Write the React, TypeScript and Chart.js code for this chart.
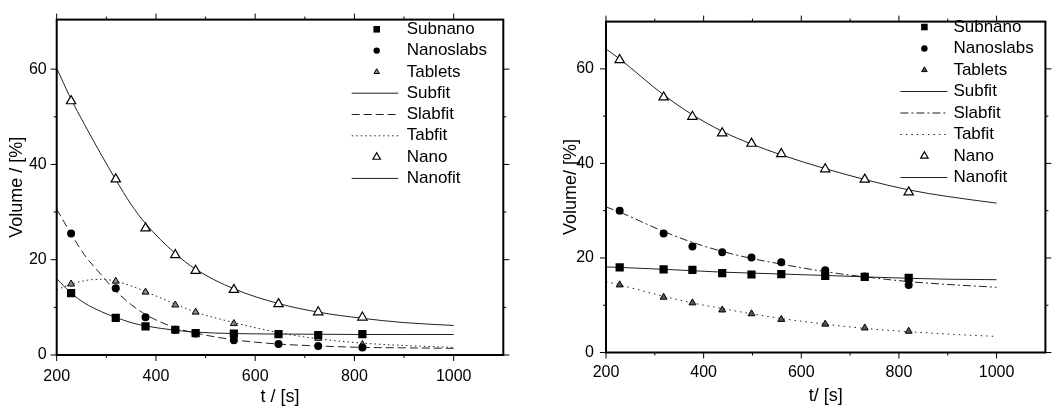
import React, { useEffect, useRef } from 'react';
import { Chart, registerables } from 'chart.js';

Chart.register(...registerables);

const FONT = "'Liberation Sans', Arial, Helvetica, sans-serif";

// ---- tick values ----
const xTickValues = [200, 400, 600, 800, 1000];
const xMinorTicks = [300, 500, 700, 900];
const yTickValues = [0, 20, 40, 60];
const yMinorTicks = [10, 30, 50];

// ---- left panel data ----
const timesL = [229, 319, 379, 439, 480, 557, 647, 727, 816];
const subnanoL = [13.0, 7.8, 6.0, 5.3, 4.6, 4.5, 4.4, 4.2, 4.4];
const nanoslabsL = [25.5, 14.0, 7.9, 5.3, 4.5, 3.1, 2.3, 1.9, 1.6];
const tabletsL = [14.9, 15.5, 13.2, 10.5, 9.0, 6.6, 4.4, 3.5, 2.2];
const nanoL = [53.3, 36.9, 26.6, 21.0, 17.7, 13.7, 10.7, 9.0, 7.9];

const fitTimesL = [200, 228, 256, 290, 319, 350, 379, 439, 480, 557, 647, 727, 816, 900, 1000];
const subfitL = [16.0, 13.1, 10.9, 9.1, 7.9, 6.8, 6.1, 5.2, 4.8, 4.5, 4.4, 4.35, 4.3, 4.3, 4.3];
const slabfitL = [30.6, 25.6, 21.0, 16.8, 13.4, 10.6, 8.5, 5.7, 4.6, 3.2, 2.3, 1.9, 1.6, 1.5, 1.4];
const tabfitL = [13.7, 14.8, 15.6, 15.9, 15.5, 14.5, 13.3, 10.7, 9.0, 6.8, 4.7, 3.4, 2.5, 2.0, 1.6];
const nanofitL = [60.2, 53.9, 48.4, 42.0, 36.8, 31.6, 27.6, 21.3, 18.0, 13.9, 10.8, 9.0, 7.7, 6.8, 6.2];

// ---- right panel data ----
const timesR = [228, 318, 377, 438, 498, 559, 649, 730, 820];
const subnanoR = [18.0, 17.6, 17.5, 16.8, 16.5, 16.6, 16.2, 16.0, 15.8];
const nanoslabsR = [30.0, 25.2, 22.4, 21.2, 20.1, 19.1, 17.4, 16.1, 14.3];
const tabletsR = [14.3, 11.7, 10.5, 9.0, 8.2, 7.0, 6.0, 5.2, 4.5];
const nanoR = [61.9, 54.0, 49.9, 46.4, 44.2, 42.0, 38.8, 36.6, 33.9];

const fitTimesR = [200, 228, 318, 377, 438, 498, 559, 649, 730, 820, 900, 1000];
const subfitR = [18.1, 18.0, 17.6, 17.3, 17.0, 16.8, 16.6, 16.3, 16.0, 15.7, 15.5, 15.4];
const slabfitR = [30.8, 29.7, 25.6, 23.3, 21.4, 19.9, 18.7, 17.1, 16.0, 15.0, 14.4, 13.8];
const tabfitR = [15.0, 14.3, 11.9, 10.5, 9.3, 8.2, 7.2, 6.0, 5.1, 4.4, 3.9, 3.4];
const nanofitR = [64.2, 62.1, 54.5, 50.3, 46.8, 44.1, 41.8, 38.9, 36.6, 34.4, 33.0, 31.6];

const pts = (xs: number[], ys: number[]) => xs.map((x, i) => ({ x, y: ys[i] }));

function markerSet(label: string, xs: number[], ys: number[], style: string, radius: number, fill: string, bw: number) {
  return {
    label,
    data: pts(xs, ys),
    showLine: false,
    pointStyle: style,
    pointRadius: radius,
    pointBackgroundColor: fill,
    pointBorderColor: '#000',
    pointBorderWidth: bw,
    borderColor: '#000',
    backgroundColor: fill,
  };
}

function fitSet(label: string, xs: number[], ys: number[], dash: number[]) {
  return {
    label,
    data: pts(xs, ys),
    showLine: true,
    pointRadius: 0,
    borderColor: '#222',
    borderWidth: 1,
    borderDash: dash,
    cubicInterpolationMode: 'monotone',
    fill: false,
  };
}

function drawMarker(ctx: CanvasRenderingContext2D, style: string, x: number, y: number, r: number, fill: string, bw: number) {
  ctx.beginPath();
  if (style === 'rect') {
    const s = r * Math.SQRT1_2;
    ctx.rect(x - s, y - s, 2 * s, 2 * s);
  } else if (style === 'circle') {
    ctx.arc(x, y, r, 0, Math.PI * 2);
  } else {
    let a = 0;
    ctx.moveTo(x + Math.sin(a) * r, y - Math.cos(a) * r);
    a += (2 * Math.PI) / 3;
    ctx.lineTo(x + Math.sin(a) * r, y - Math.cos(a) * r);
    a += (2 * Math.PI) / 3;
    ctx.lineTo(x + Math.sin(a) * r, y - Math.cos(a) * r);
    ctx.closePath();
  }
  ctx.fillStyle = fill;
  ctx.fill();
  if (bw > 0) {
    ctx.lineWidth = bw;
    ctx.strokeStyle = '#000';
    ctx.stroke();
  }
}

const frameTicks = {
  id: 'frameTicks',
  afterDraw(chart: any) {
    const { ctx, chartArea } = chart;
    const { left, right, top, bottom } = chartArea;
    const xs = chart.scales.x;
    const ys = chart.scales.y;
    ctx.save();
    ctx.strokeStyle = '#000';
    ctx.lineWidth = 1;
    const seg = (x1: number, y1: number, x2: number, y2: number) => {
      ctx.beginPath();
      ctx.moveTo(x1, y1);
      ctx.lineTo(x2, y2);
      ctx.stroke();
    };
    const xt = (vals: number[], len: number) => vals.forEach((v) => {
      const p = xs.getPixelForValue(v);
      seg(p, bottom, p, bottom + len);
      seg(p, top, p, top - len);
    });
    const yt = (vals: number[], len: number) => vals.forEach((v) => {
      const p = ys.getPixelForValue(v);
      seg(left, p, left - len, p);
      seg(right, p, right + len, p);
    });
    xt(xTickValues, 6);
    xt(xMinorTicks, 3);
    yt(yTickValues, 6);
    yt(yMinorTicks, 3);
    ctx.lineWidth = 2;
    ctx.strokeRect(left, top, right - left, bottom - top);
    ctx.restore();
  },
};

const insideLegend = {
  id: 'insideLegend',
  afterDraw(chart: any, _args: any, opts: any) {
    const { ctx, chartArea } = chart;
    const R = chartArea.right;
    ctx.save();
    ctx.font = `17px ${FONT}`;
    ctx.textBaseline = 'middle';
    ctx.textAlign = 'left';
    chart.data.datasets.forEach((ds: any, i: number) => {
      const y = opts.top + i * opts.step;
      if (ds.showLine === false) {
        drawMarker(ctx, ds.pointStyle, R + opts.markerDx, y, ds.pointRadius * 0.8, ds.pointBackgroundColor, ds.pointBorderWidth);
      } else {
        ctx.beginPath();
        ctx.setLineDash(ds.borderDash || []);
        ctx.strokeStyle = ds.borderColor;
        ctx.lineWidth = 1;
        ctx.moveTo(R + opts.lineX0, y);
        ctx.lineTo(R + opts.lineX1, y);
        ctx.stroke();
        ctx.setLineDash([]);
      }
      ctx.fillStyle = '#000';
      ctx.fillText(ds.label, R + opts.textDx, y);
    });
    ctx.restore();
  },
};

type PanelCfg = {
  datasets: any[];
  xTitle: string;
  yTitle: string;
  yMax: number;
  padTop: number;
  padRight: number;
  yAxisWidth: number;
  xAxisHeight: number;
  yTickPad: number;
  xTickPad: number;
  yTitlePad: number;
  xTitlePad: number;
  legend: any;
};

const leftCfg: PanelCfg = {
  datasets: [
    markerSet('Subnano', timesL, subnanoL, 'rect', 5.8, '#000', 0),
    markerSet('Nanoslabs', timesL, nanoslabsL, 'circle', 4, '#000', 0),
    markerSet('Tablets', timesL, tabletsL, 'triangle', 4, '#888', 1),
    fitSet('Subfit', fitTimesL, subfitL, []),
    fitSet('Slabfit', fitTimesL, slabfitL, [8, 4]),
    fitSet('Tabfit', fitTimesL, tabfitL, [1.5, 3]),
    markerSet('Nano', timesL, nanoL, 'triangle', 5.4, '#fff', 1.2),
    fitSet('Nanofit', fitTimesL, nanofitL, []),
  ],
  xTitle: 't / [s]',
  yTitle: 'Volume / [%]',
  yMax: 70.4,
  padTop: 13.3,
  padRight: 22.7,
  yAxisWidth: 56.7,
  xAxisHeight: 54,
  yTickPad: 10,
  xTickPad: 11.5,
  yTitlePad: 6.7,
  xTitlePad: 0.7,
  legend: { top: 29.3, step: 21.3, markerDx: -126.6, lineX0: -151.6, lineX1: -105, textDx: -96.6 },
};

const rightCfg: PanelCfg = {
  datasets: [
    markerSet('Subnano', timesR, subnanoR, 'rect', 5.8, '#000', 0),
    markerSet('Nanoslabs', timesR, nanoslabsR, 'circle', 4, '#000', 0),
    markerSet('Tablets', timesR, tabletsR, 'triangle', 4, '#555', 1),
    fitSet('Subfit', fitTimesR, subfitR, []),
    fitSet('Slabfit', fitTimesR, slabfitR, [8, 3, 2, 3]),
    fitSet('Tabfit', fitTimesR, tabfitR, [1.5, 4]),
    markerSet('Nano', timesR, nanoR, 'triangle', 5.4, '#fff', 1.2),
    fitSet('Nanofit', fitTimesR, nanofitR, []),
  ],
  xTitle: 't/ [s]',
  yTitle: 'Volume/ [%]',
  yMax: 70,
  padTop: 12.7,
  padRight: 2,
  yAxisWidth: 80,
  xAxisHeight: 56.5,
  yTickPad: 12,
  xTickPad: 10.4,
  yTitlePad: 34.2,
  xTitlePad: 1.7,
  legend: { top: 27, step: 21.5, markerDx: -121, lineX0: -145, lineX1: -98, textDx: -92 },
};

function Panel({ cfg, left }: { cfg: PanelCfg; left: number }) {
  const ref = useRef<HTMLCanvasElement>(null);
  useEffect(() => {
    const chart = new Chart(ref.current as HTMLCanvasElement, {
      type: 'line',
      data: { datasets: cfg.datasets },
      plugins: [frameTicks, insideLegend],
      options: {
        animation: false,
        responsive: false,
        devicePixelRatio: 1,
        layout: { padding: { left: 0, right: cfg.padRight, top: cfg.padTop, bottom: 0 } },
        plugins: {
          legend: { display: false },
          tooltip: { enabled: false },
          insideLegend: cfg.legend,
        } as any,
        scales: {
          x: {
            type: 'linear',
            min: 200,
            max: 1100,
            afterBuildTicks: (s: any) => { s.ticks = xTickValues.map((v) => ({ value: v })); },
            afterFit: (s: any) => { s.height = cfg.xAxisHeight; },
            grid: { display: false, drawTicks: false },
            border: { display: false },
            ticks: {
              font: { family: FONT, size: 16 },
              color: '#000',
              padding: cfg.xTickPad,
              maxRotation: 0,
              autoSkip: false,
              callback: (v: any) => String(v),
            },
            title: { display: true, text: cfg.xTitle, color: '#000', font: { family: FONT, size: 18 }, padding: { top: 0, bottom: cfg.xTitlePad } },
          },
          y: {
            type: 'linear',
            min: 0,
            max: cfg.yMax,
            afterBuildTicks: (s: any) => { s.ticks = yTickValues.map((v) => ({ value: v })); },
            afterFit: (s: any) => { s.width = cfg.yAxisWidth; },
            grid: { display: false, drawTicks: false },
            border: { display: false },
            ticks: {
              font: { family: FONT, size: 16 },
              color: '#000',
              padding: cfg.yTickPad,
              autoSkip: false,
              callback: (v: any) => String(v),
            },
            title: { display: true, text: cfg.yTitle, color: '#000', font: { family: FONT, size: 18 }, padding: { top: cfg.yTitlePad, bottom: 0 } },
          },
        },
      } as any,
    });
    return () => chart.destroy();
  }, []);
  return (
    <canvas
      ref={ref}
      width={526}
      height={409}
      style={{ position: 'absolute', left, top: 0, width: 526, height: 409, display: 'block' }}
    />
  );
}

export default function App() {
  return (
    <div style={{ position: 'absolute', left: 0, top: 0, width: 1052, height: 409, background: '#fff', overflow: 'hidden' }}>
      <Panel cfg={leftCfg} left={0} />
      <Panel cfg={rightCfg} left={526} />
    </div>
  );
}
